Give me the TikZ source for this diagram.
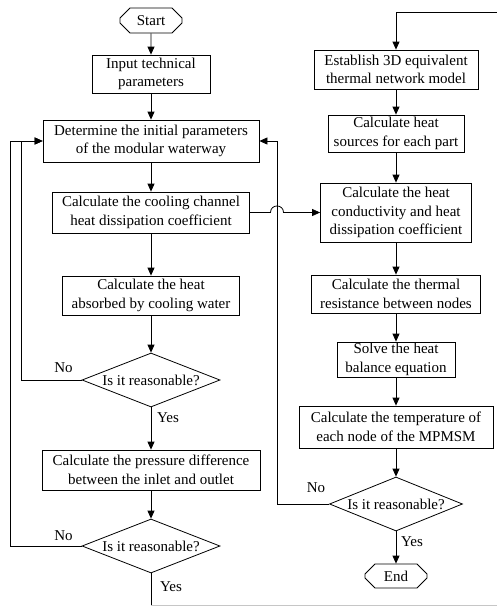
\documentclass[tikz,border=0pt]{standalone}
\usepackage{fontspec}
\setmainfont{Liberation Serif}
\usetikzlibrary{arrows.meta,shapes.geometric,shapes.misc}
\begin{document}
\begin{tikzpicture}[x=1pt,y=-1pt,
  every node/.style={font=\fontsize{15}{18.5}\selectfont},
  box/.style={draw, line width=0.8pt, align=center, inner sep=0pt},
  dia/.style={draw, diamond, aspect=2.5, line width=0.8pt, inner sep=0pt},
  term/.style={draw, chamfered rectangle, chamfered rectangle xsep=5pt, chamfered rectangle ysep=5pt, line width=0.8pt, inner sep=0pt},
  line/.style={line width=0.8pt},
  arr/.style={line, -{Triangle[length=8pt,width=7pt]}},
  lab/.style={inner sep=0pt}]
\useasboundingbox (0,0) rectangle (497,606);
\clip (0,0) rectangle (497,606);
% left column
\node[term, minimum width=62pt, minimum height=25pt] (start) at (151,20.5) {Start};
\node[box, minimum width=118pt, minimum height=38pt] (inp) at (151,74) {Input technical\\parameters};
\node[box, minimum width=216pt, minimum height=42pt] (det) at (151,141) {Determine the initial parameters\\of the modular waterway};
\node[box, minimum width=197pt, minimum height=41pt] (cool) at (151,212.5) {Calculate the cooling channel\\heat dissipation coefficient};
\node[box, minimum width=177pt, minimum height=39pt] (abs) at (151,295.5) {Calculate the heat\\absorbed by cooling water};
\node[dia, minimum width=138pt, minimum height=54pt] (d1) at (151,380) {Is it reasonable?};
\node[box, minimum width=218pt, minimum height=40pt] (pres) at (151,470) {Calculate the pressure difference\\between the inlet and outlet};
\node[dia, minimum width=138pt, minimum height=54pt] (d2) at (151,546) {Is it reasonable?};
% right column
\node[box, minimum width=164pt, minimum height=39pt] (est) at (396,69.5) {Establish 3D equivalent\\thermal network model};
\node[box, minimum width=136pt, minimum height=37pt] (src) at (396,133.5) {Calculate heat\\sources for each part};
\node[box, minimum width=151pt, minimum height=59pt] (cond) at (396,212.5) {Calculate the heat\\conductivity and heat\\dissipation coefficient};
\node[box, minimum width=169pt, minimum height=38pt] (res) at (396,294) {Calculate the thermal\\resistance between nodes};
\node[box, minimum width=118pt, minimum height=35pt] (solve) at (396,359.5) {Solve the heat\\balance equation};
\node[box, minimum width=194pt, minimum height=42pt] (temp) at (396,427) {Calculate the temperature of\\each node of the MPMSM};
\node[dia, minimum width=133pt, minimum height=54pt] (d3) at (396,504) {Is it reasonable?};
\node[term, minimum width=62pt, minimum height=24pt] (end) at (396,576) {End};
% labels
\node[lab] (no1) at (63.5,368) {No};
\node[lab] (yes1) at (168,418) {Yes};
\node[lab] (no2) at (63.5,536) {No};
\node[lab] (yes2) at (171,587) {Yes};
\node[lab] (no3) at (316,488) {No};
\node[lab] (yes3) at (412,542) {Yes};
% helper coordinates
\coordinate (j1) at (270.5,212.5);
\coordinate (j2) at (283.5,212.5);
\coordinate (b0) at (151,606);
\coordinate (b1) at (151,605.4);
\coordinate (b2) at (520,605.4);
\coordinate (t1) at (520,12.7);
% connectors left
\draw[arr] (start) -- (inp);
\draw[arr] (inp) -- (det);
\draw[arr] (det) -- (cool);
\draw[arr] (cool) -- (abs);
\draw[arr] (abs) -- (d1);
\draw[arr] (d1) -- (pres);
\draw[arr] (pres) -- (d2);
\draw[arr] (d1.west) -- ++(-60,0) |- (det.west);
\draw[arr] (d2.west) -- ++(-71,0) |- (det.west);
% connectors right
\draw[arr] (est) -- (src);
\draw[arr] (src) -- (cond);
\draw[arr] (cond) -- (res);
\draw[arr] (res) -- (solve);
\draw[arr] (solve) -- (temp);
\draw[arr] (temp) -- (d3);
\draw[arr] (d3) -- (end);
\draw[arr] (d3.west) -- ++(-52,0) |- (det.east);
\draw[arr] (cool.east) -- (j1) .. controls (270.5,203.8) and (283.5,203.8) .. (j2) -- (cond.west);
% return loop (partly outside the picture)
\draw[line] (d2.south) -- (b0);
\draw[line, gray!45] (b1) -- (b2);
\draw[arr] (b2) -- (t1) -| (est.north);
\end{tikzpicture}
\end{document}
